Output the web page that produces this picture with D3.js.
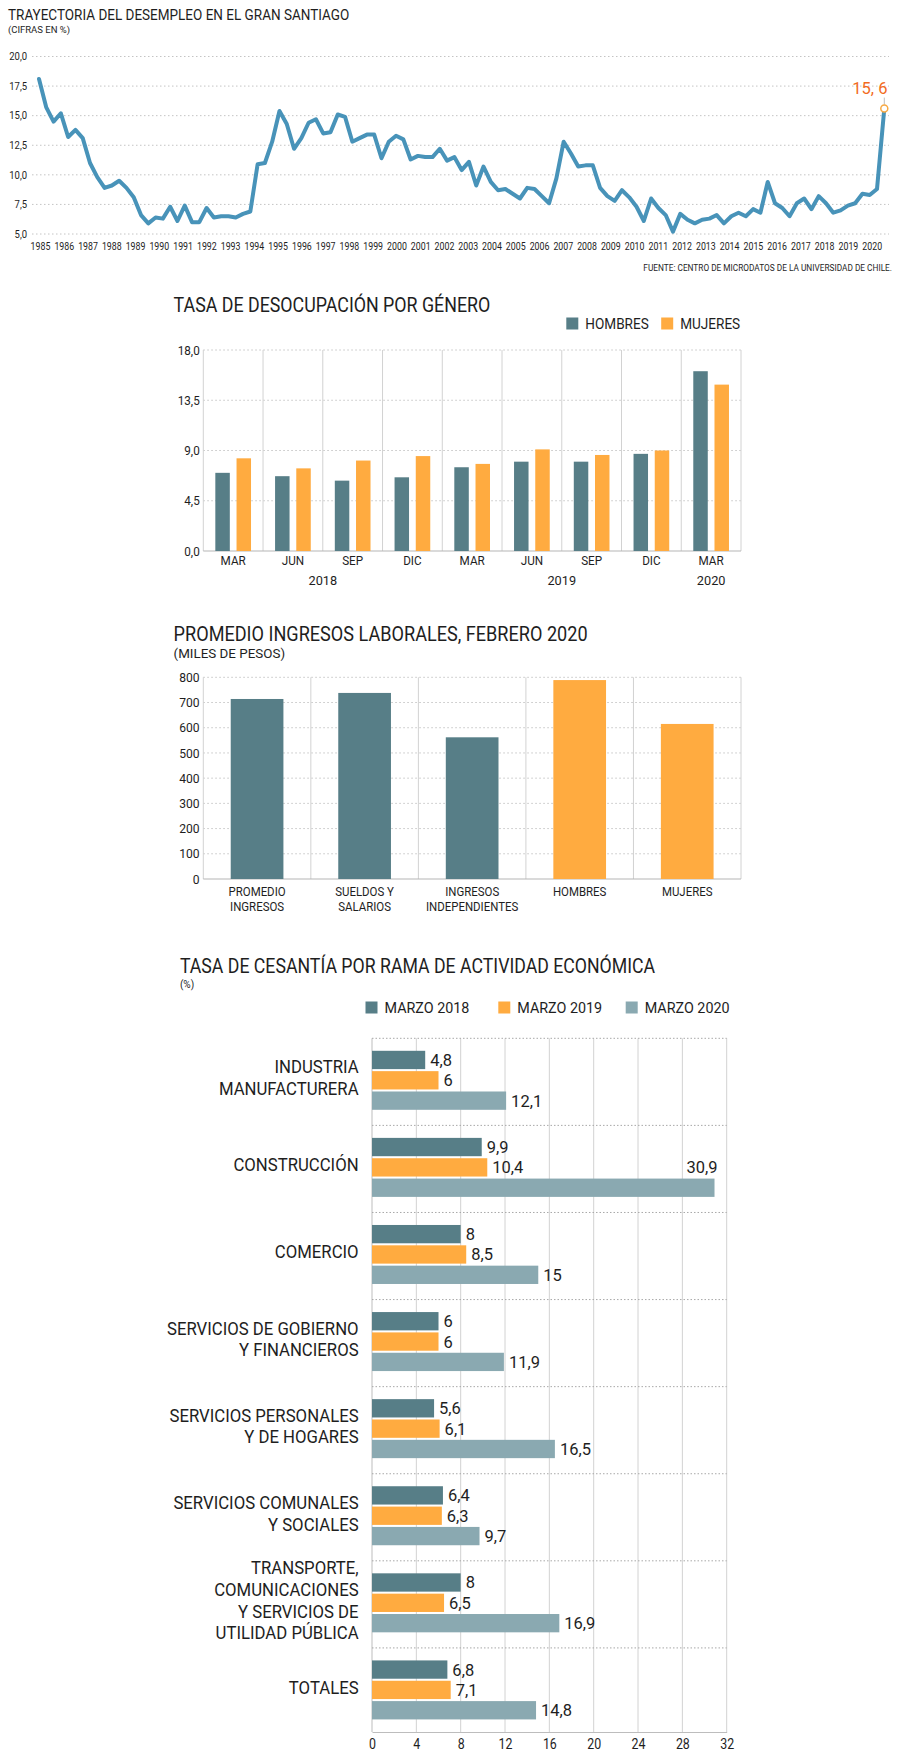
<!DOCTYPE html>
<html><head><meta charset="utf-8">
<script src="https://cdn.jsdelivr.net/npm/d3@7"></script>
<style>
body{margin:0;background:#fff;}
svg{display:block;font-family:Roboto,'Noto Sans',sans-serif;}
</style></head><body>
<svg id="c" width="900" height="1759"></svg>
<script>
// ---------------- DATA ----------------
const unemploymentRate = [18.1,15.7,14.5,15.2,13.2,13.8,13.1,11.0,9.8,8.9,9.1,9.5,8.9,8.1,6.6,5.9,6.4,6.3,7.3,6.1,
7.4,6.0,6.0,7.2,6.4,6.5,6.5,6.4,6.7,6.9,10.9,11.0,12.8,15.4,14.3,12.2,13.1,14.4,14.7,13.5,
13.6,15.1,14.9,12.8,13.1,13.4,13.4,11.4,12.8,13.3,13.0,11.3,11.6,11.5,11.5,12.2,11.2,11.5,10.4,11.1,
9.1,10.7,9.4,8.7,8.8,8.4,8.0,8.9,8.8,8.2,7.6,9.7,12.8,11.8,10.7,10.8,10.8,8.9,8.2,7.8,
8.7,8.1,7.3,6.1,8.0,7.2,6.6,5.2,6.7,6.2,5.9,6.2,6.3,6.6,5.9,6.5,6.8,6.5,7.1,6.8,
9.4,7.6,7.2,6.5,7.6,8.0,7.1,8.2,7.6,6.8,7.0,7.4,7.6,8.4,8.3,8.8,15.6];
const lineYears = d3.range(1985, 2021);
const lineYTicks = [5, 7.5, 10, 12.5, 15, 17.5, 20];

const genderMonths = ["MAR","JUN","SEP","DIC","MAR","JUN","SEP","DIC","MAR"];
const genderYears  = ["2018","2018","2018","2018","2019","2019","2019","2019","2020"];
const genderSeries = ["HOMBRES","MUJERES"];
const menRate   = [7.0, 6.7, 6.3, 6.6, 7.5, 8.0, 8.0, 8.7, 16.1];
const womenRate = [8.3, 7.4, 8.1, 8.5, 7.8, 9.1, 8.6, 9.0, 14.9];
const genderYTicks = [0, 4.5, 9, 13.5, 18];

const incomeCategories = [["PROMEDIO","INGRESOS"],["SUELDOS Y","SALARIOS"],["INGRESOS","INDEPENDIENTES"],["HOMBRES"],["MUJERES"]];
const incomeValues = [714, 738, 562, 789, 615];
const incomeGroups = ["total","total","total","genero","genero"];
const incomeYTicks = [0,100,200,300,400,500,600,700,800];

const sectorCategories = [["INDUSTRIA","MANUFACTURERA"],["CONSTRUCCIÓN"],["COMERCIO"],
  ["SERVICIOS DE GOBIERNO","Y FINANCIEROS"],["SERVICIOS PERSONALES","Y DE HOGARES"],
  ["SERVICIOS COMUNALES","Y SOCIALES"],["TRANSPORTE,","COMUNICACIONES","Y SERVICIOS DE","UTILIDAD PÚBLICA"],["TOTALES"]];
const sectorSeries = ["MARZO 2018","MARZO 2019","MARZO 2020"];
const march2018 = [4.8, 9.9, 8, 6, 5.6, 6.4, 8, 6.8];
const march2019 = [6, 10.4, 8.5, 6, 6.1, 6.3, 6.5, 7.1];
const march2020 = [12.1, 30.9, 15, 11.9, 16.5, 9.7, 16.9, 14.8];
const sectorXTicks = [0,4,8,12,16,20,24,28,32];

// ---------------- STYLE ----------------
const TEAL = "#577e87", ORANGE = "#ffab40", LIGHT = "#8aa9b1", LINE = "#4893b9";
const TXT = "#1e1e1e", GRID = "#d2d2d2", DOT = "#c4c4c4";
const svg = d3.select("#c");
svg.append("rect").attr("width",900).attr("height",1759).attr("fill","#fff");

const comma1 = d => d3.format(".1f")(d).replace(".", ",");
const commaAuto = d => (Number.isInteger(d) ? String(d) : d3.format(".1f")(d)).replace(".", ",");

function T(parent, x, y, str, o) {
  o = o || {};
  return parent.append("text")
    .attr("transform", `translate(${x},${y}) scale(${o.k||1},1)`)
    .attr("text-anchor", o.anchor || "start")
    .attr("font-size", o.size || 12)
    .attr("font-weight", o.weight || 400)
    .attr("fill", o.fill || TXT)
    .text(str);
}
function styleAxisText(g, size, k) {
  g.selectAll(".tick text").attr("font-size", size).attr("fill", TXT)
    .attr("font-family", "Roboto,'Noto Sans',sans-serif")
    .attr("transform", `scale(${k},1)`);
}

// ================= CHART 1: LINE =================
{
  const g = svg.append("g");
  T(g, 8, 20, "TRAYECTORIA DEL DESEMPLEO EN EL GRAN SANTIAGO", {size:14, k:0.965});
  T(g, 8, 32.5, "(CIFRAS EN %)", {size:9.5, k:1});

  const xi = d3.scaleLinear().domain([0, unemploymentRate.length - 1]).range([39, 884.3]);
  const xy = d3.scaleLinear().domain([1985, 2020]).range([40, 871.7]);
  const yl = d3.scaleLinear().domain([5, 20]).range([234, 56.5]);

  g.append("g").selectAll("line").data(lineYTicks).join("line")
    .attr("x1", 32).attr("x2", 889).attr("y1", d => yl(d)).attr("y2", d => yl(d))
    .attr("stroke", DOT).attr("stroke-width", 1).attr("stroke-dasharray", "1.5,2.5");

  const ya = g.append("g").attr("transform", "translate(30,0)")
    .call(d3.axisLeft(yl).tickValues(lineYTicks).tickSize(0).tickPadding(3).tickFormat(comma1));
  ya.select(".domain").remove();
  styleAxisText(ya, 10, 0.95);

  const xa = g.append("g").attr("transform", "translate(0,243)")
    .call(d3.axisBottom(xy).tickValues(lineYears).tickSize(0).tickPadding(0).tickFormat(d3.format("d")));
  xa.select(".domain").remove();
  styleAxisText(xa, 10, 0.88);

  g.append("path").datum(unemploymentRate)
    .attr("d", d3.line().x((d, i) => xi(i)).y(d => yl(d)))
    .attr("fill", "none").attr("stroke", LINE).attr("stroke-width", 4)
    .attr("stroke-linejoin", "round").attr("stroke-linecap", "round");

  const li = unemploymentRate.length - 1, lv = unemploymentRate[li];
  g.append("line").attr("x1", xi(li)).attr("x2", xi(li)).attr("y1", yl(lv) - 11).attr("y2", yl(lv) - 4)
    .attr("stroke", "#bdbdbd").attr("stroke-width", 1);
  g.append("circle").attr("cx", xi(li)).attr("cy", yl(lv)).attr("r", 3.5)
    .attr("fill", "#fff").attr("stroke", "#f7a944").attr("stroke-width", 1.5);
  T(g, 887.5, yl(lv) - 15, commaAuto(lv).replace(",", ", "), {size:16.5, anchor:"end", fill:"#f26b1d"});

  T(g, 892, 271, "FUENTE: CENTRO DE MICRODATOS DE LA UNIVERSIDAD DE CHILE.", {size:9.2, k:0.9, anchor:"end"});
}

// ================= CHART 2: GENDER BARS =================
{
  const g = svg.append("g");
  T(g, 173.6, 312.3, "TASA DE DESOCUPACIÓN POR GÉNERO", {size:19.7, k:0.905});
  const colors = {HOMBRES: TEAL, MUJERES: ORANGE};
  const legX = [566.3, 661.2];
  genderSeries.forEach((s, i) => {
    g.append("rect").attr("x", legX[i]).attr("y", 317.5).attr("width", 12).attr("height", 12).attr("fill", colors[s]);
    T(g, legX[i] + 19, 329.3, s, {size:14, k:0.97});
  });

  const x0 = d3.scaleBand().domain(d3.range(genderMonths.length)).range([203.3, 741]).padding(0);
  const x1 = d3.scaleBand().domain(genderSeries).range([0, x0.bandwidth()]).paddingInner(0.317).paddingOuter(0.567);
  const yg = d3.scaleLinear().domain([0, 18]).range([551, 350]);

  g.append("g").selectAll("line").data(genderYTicks.filter(d => d > 0)).join("line")
    .attr("x1", x0.range()[0]).attr("x2", x0.range()[1]).attr("y1", d => yg(d)).attr("y2", d => yg(d))
    .attr("stroke", DOT).attr("stroke-dasharray", "1.5,2.5");
  g.append("g").selectAll("line").data(d3.range(genderMonths.length + 1)).join("line")
    .attr("x1", i => x0.range()[0] + i * x0.step()).attr("x2", i => x0.range()[0] + i * x0.step())
    .attr("y1", yg(18)).attr("y2", yg(0)).attr("stroke", GRID);
  g.append("line").attr("x1", x0.range()[0]).attr("x2", x0.range()[1]).attr("y1", yg(0)).attr("y2", yg(0))
    .attr("stroke", "#b5b5b5");

  const rows = genderMonths.map((m, i) => ({i, HOMBRES: menRate[i], MUJERES: womenRate[i]}));
  g.append("g").selectAll("g").data(rows).join("g")
    .attr("transform", d => `translate(${x0(d.i)},0)`)
    .selectAll("rect").data(d => genderSeries.map(s => ({s, v: d[s]}))).join("rect")
    .attr("x", d => x1(d.s)).attr("width", x1.bandwidth())
    .attr("y", d => yg(d.v)).attr("height", d => yg(0) - yg(d.v)).attr("fill", d => colors[d.s]);

  const ya = g.append("g").attr("transform", `translate(${x0.range()[0]},0)`)
    .call(d3.axisLeft(yg).tickValues(genderYTicks).tickSize(0).tickPadding(4).tickFormat(comma1));
  ya.select(".domain").remove();
  styleAxisText(ya, 13, 0.9);

  const xa = g.append("g").attr("transform", `translate(0,${yg(0) + 5})`)
    .call(d3.axisBottom(x0).tickSize(0).tickPadding(0).tickFormat(i => genderMonths[i]));
  xa.select(".domain").remove();
  styleAxisText(xa, 13, 0.9);

  const yrs = d3.groups(d3.range(genderYears.length), i => genderYears[i]);
  yrs.forEach(([yr, idx]) => {
    const cx = (x0(idx[0]) + x0(idx[idx.length - 1]) + x0.bandwidth()) / 2;
    T(g, cx, 585, yr, {size:13, k:0.98, anchor:"middle"});
  });
}

// ================= CHART 3: INCOME BARS =================
{
  const g = svg.append("g");
  T(g, 173.6, 640.7, "PROMEDIO INGRESOS LABORALES, FEBRERO 2020", {size:19.7, k:0.92});
  T(g, 173.6, 657.5, "(MILES DE PESOS)", {size:13, k:1.03});

  const x = d3.scaleBand().domain(d3.range(incomeValues.length)).range([203.3, 741]).padding(0);
  const y = d3.scaleLinear().domain([0, 800]).range([879, 677.3]);
  const col = {total: TEAL, genero: ORANGE};

  g.append("g").selectAll("line").data(incomeYTicks.filter(d => d > 0)).join("line")
    .attr("x1", x.range()[0]).attr("x2", x.range()[1]).attr("y1", d => y(d)).attr("y2", d => y(d))
    .attr("stroke", DOT).attr("stroke-dasharray", "1.5,2.5");
  g.append("g").selectAll("line").data(d3.range(incomeValues.length + 1)).join("line")
    .attr("x1", i => x.range()[0] + i * x.step()).attr("x2", i => x.range()[0] + i * x.step())
    .attr("y1", y(800)).attr("y2", y(0)).attr("stroke", GRID);
  g.append("line").attr("x1", x.range()[0]).attr("x2", x.range()[1]).attr("y1", y(0)).attr("y2", y(0))
    .attr("stroke", "#b5b5b5");

  const bw = x.bandwidth() * 0.49;
  g.append("g").selectAll("rect").data(incomeValues).join("rect")
    .attr("x", (d, i) => x(i) + (x.bandwidth() - bw) / 2).attr("width", bw)
    .attr("y", d => y(d)).attr("height", d => y(0) - y(d))
    .attr("fill", (d, i) => col[incomeGroups[i]]);

  const ya = g.append("g").attr("transform", `translate(${x.range()[0]},0)`)
    .call(d3.axisLeft(y).tickValues(incomeYTicks).tickSize(0).tickPadding(4).tickFormat(d3.format("d")));
  ya.select(".domain").remove();
  styleAxisText(ya, 13, 0.93);

  incomeCategories.forEach((lines, i) => {
    const cx = x(i) + x.bandwidth() / 2;
    lines.forEach((ln, j) => T(g, cx, 896 + j * 14.5, ln, {size:13, k:0.88, anchor:"middle"}));
  });
}

// ================= CHART 4: SECTOR HORIZONTAL BARS =================
{
  const g = svg.append("g");
  T(g, 179.9, 972.7, "TASA DE CESANTÍA POR RAMA DE ACTIVIDAD ECONÓMICA", {size:20, k:0.886});
  T(g, 179.9, 988, "(%)", {size:10, k:1});

  const colors = [TEAL, ORANGE, LIGHT];
  const legX = [365.5, 498.3, 625.7];
  sectorSeries.forEach((s, i) => {
    g.append("rect").attr("x", legX[i]).attr("y", 1001.5).attr("width", 12).attr("height", 12).attr("fill", colors[i]);
    T(g, legX[i] + 19, 1013.3, s, {size:14.5, k:0.99});
  });

  const xs = d3.scaleLinear().domain([0, 32]).range([372, 726.7]);
  const ys0 = d3.scaleBand().domain(d3.range(sectorCategories.length)).range([1038.3, 1735]);
  const ys1 = d3.scaleBand().domain(sectorSeries).range([12.5, 71.5]).paddingInner(0.1);
  const axisY = 1732;

  g.append("g").selectAll("line").data(sectorXTicks).join("line")
    .attr("x1", d => xs(d)).attr("x2", d => xs(d)).attr("y1", ys0.range()[0]).attr("y2", axisY)
    .attr("stroke", d => d === 0 ? "#bdbdbd" : GRID);
  g.append("g").selectAll("line").data(d3.range(sectorCategories.length)).join("line")
    .attr("x1", xs(0)).attr("x2", xs(32)).attr("y1", i => ys0(i)).attr("y2", i => ys0(i))
    .attr("stroke", "#a8a8a8").attr("stroke-dasharray", "1.5,2");

  const seriesVals = [march2018, march2019, march2020];
  const items = [];
  sectorCategories.forEach((c, i) => sectorSeries.forEach((s, j) => items.push({i, s, j, v: seriesVals[j][i]})));

  g.append("g").selectAll("rect").data(items).join("rect")
    .attr("x", xs(0)).attr("y", d => ys0(d.i) + ys1(d.s)).attr("height", ys1.bandwidth())
    .attr("width", d => xs(d.v) - xs(0)).attr("fill", d => colors[d.j]);

  items.forEach(d => {
    const cy = ys0(d.i) + ys1(d.s) + ys1.bandwidth() / 2;
    const fits = xs(d.v) + 38 < xs.range()[1];
    if (fits) {
      T(g, xs(d.v) + 5, cy + 6, commaAuto(d.v), {size:17, k:0.97});
    } else {
      T(g, xs(d.v) + 3, cy - ys1.step() + 6, commaAuto(d.v), {size:17, k:0.97, anchor:"end"});
    }
  });

  sectorCategories.forEach((lines, i) => {
    const cy = ys0(i) + ys0.bandwidth() / 2 - 4;
    const lh = 21.7;
    lines.forEach((ln, j) => {
      T(g, 358.6, cy - (lines.length - 1) / 2 * lh + j * lh + 6.4, ln, {size:18, k:0.93, anchor:"end"});
    });
  });

  const xa = g.append("g").attr("transform", `translate(0,${axisY})`)
    .call(d3.axisBottom(xs).tickValues(sectorXTicks).tickSize(0).tickPadding(6));
  xa.select(".domain").attr("stroke", "#bdbdbd");
  styleAxisText(xa, 15.5, 0.8);
}
</script>
</body></html>
